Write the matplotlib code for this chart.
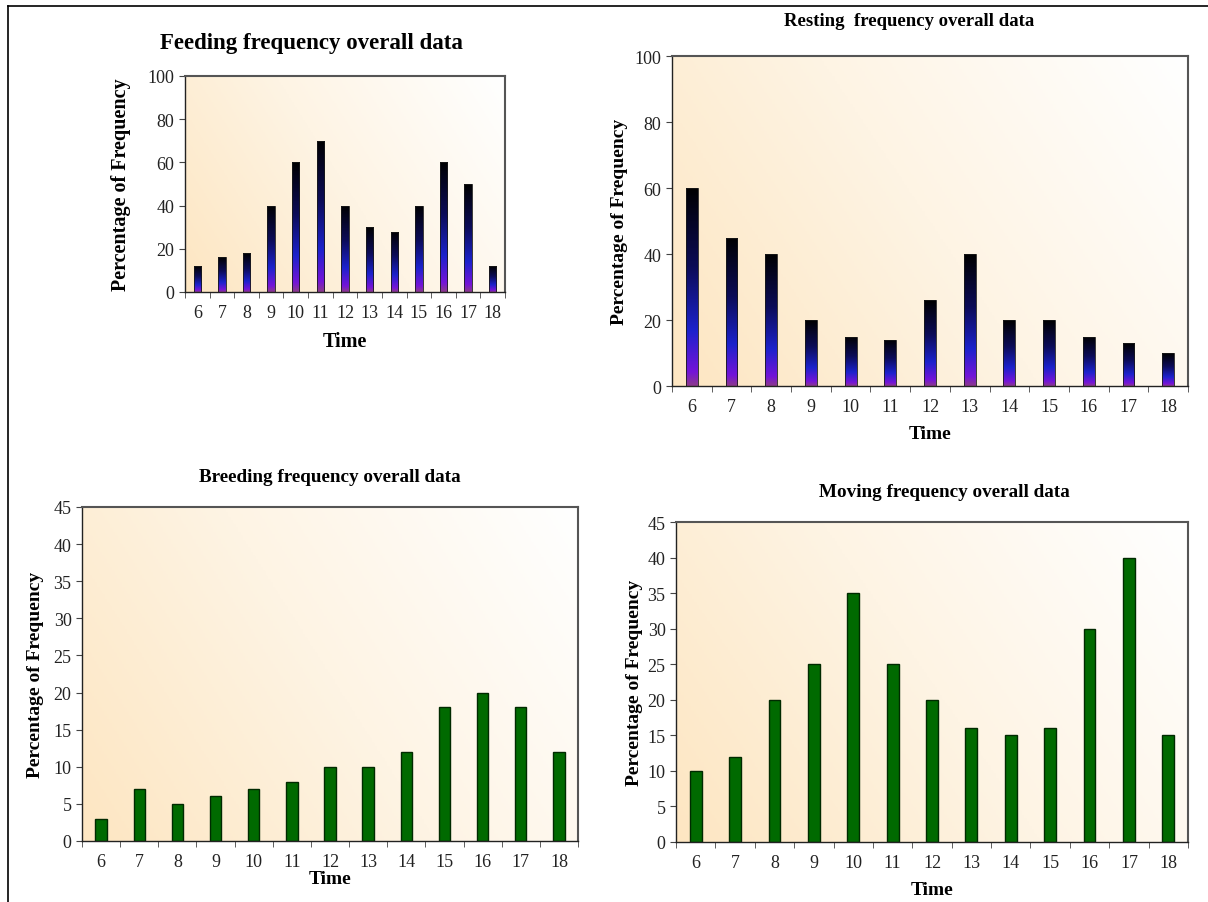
import numpy as np
import matplotlib
matplotlib.use("Agg")
import matplotlib.pyplot as plt
from matplotlib.colors import LinearSegmentedColormap
from matplotlib.lines import Line2D

plt.rcParams['font.family'] = ['Liberation Serif', 'DejaVu Serif']

hours = ['6', '7', '8', '9', '10', '11', '12', '13', '14', '15', '16', '17', '18']
feeding = [12, 16, 18, 40, 60, 70, 40, 30, 28, 40, 60, 50, 12]
resting = [60, 45, 40, 20, 15, 14, 26, 40, 20, 20, 15, 13, 10]
breeding = [3, 7, 5, 6, 7, 8, 10, 10, 12, 18, 20, 18, 12]
moving = [10, 12, 20, 25, 35, 25, 20, 16, 15, 16, 30, 40, 15]

W, H = 1208, 903
fig = plt.figure(figsize=(W / 100, H / 100), dpi=100)

bg_cmap = LinearSegmentedColormap.from_list('bg', ['#fde6c2', '#fef4e4', '#ffffff'])
bar_cmap = LinearSegmentedColormap.from_list(
    'bar', [(0.0, '#8c3a8c'), (0.07, '#7414d8'), (0.28, '#1c22cc'),
            (0.6, '#0c0c58'), (1.0, '#000000')])


def rect(l, t, r, b):
    # pixel box -> figure fraction
    return [l / W, 1 - b / H, (r - l) / W, (b - t) / H]


def panel(box, values, ymax, ystep, title, title_xy, title_size, xlabel_pad, ylabel_pad,
          label_size, green, barw):
    ax = fig.add_axes(rect(*box))
    x = np.arange(len(values))
    gx, gy = np.meshgrid(np.linspace(0, 1, 200), np.linspace(0, 1, 200))
    ax.imshow(0.7 * gx + 0.3 * gy, extent=[0, 1, 0, 1], transform=ax.transAxes,
              cmap=bg_cmap, aspect='auto', origin='lower', zorder=0)
    if green:
        ax.bar(x, values, width=barw, color='#006a00', edgecolor='#002a00',
               linewidth=1.0, zorder=2)
    else:
        bars = ax.bar(x, values, width=barw, facecolor='none', edgecolor='#1a1a1a',
                      linewidth=0.6, zorder=3)
        grad = np.linspace(0, 1, 256).reshape(-1, 1)
        for b in bars:
            x0 = b.get_x()
            im = ax.imshow(grad, extent=[x0, x0 + b.get_width(), 0, b.get_height()],
                           cmap=bar_cmap, aspect='auto', origin='lower', zorder=2)
            im.set_clip_path(b)
    ax.set_xlim(-0.5, len(values) - 0.5)
    ax.set_ylim(0, ymax)
    ax.set_yticks(np.arange(0, ymax + 1, ystep))
    ax.set_xticks(x)
    ax.set_xticklabels(hours)
    ax.set_xticks(np.arange(-0.5, len(values), 1), minor=True)
    ax.tick_params(axis='x', which='major', length=0, pad=9, labelsize=13, labelcolor='#222222')
    ax.tick_params(axis='x', which='minor', length=4, direction='out', color='#444444')
    ax.tick_params(axis='y', length=4, direction='out', labelsize=13, labelcolor='#222222',
                   color='#444444')
    for s in ['top', 'right']:
        ax.spines[s].set_color('#555555')
        ax.spines[s].set_linewidth(1.5)
    for s in ['left', 'bottom']:
        ax.spines[s].set_color('#222222')
        ax.spines[s].set_linewidth(1.0)
    ax.set_xlabel('Time', fontsize=label_size, fontweight='bold', labelpad=xlabel_pad)
    ax.set_ylabel('Percentage of Frequency', fontsize=label_size, fontweight='bold',
                  labelpad=ylabel_pad)
    fig.text(title_xy[0] / W, 1 - title_xy[1] / H, title, ha='center', va='center',
             fontsize=title_size, fontweight='bold')
    return ax


panel((185, 77, 505, 293), feeding, 100, 20, 'Feeding frequency overall data',
      (311, 44), 16.5, 7, 12, 14.5, False, 0.3)
panel((672, 57, 1188, 387), resting, 100, 20, 'Resting  frequency overall data',
      (909, 22), 13.5, 7, 5, 14, False, 0.3)
panel((82, 508, 578, 842), breeding, 45, 5, 'Breeding frequency overall data',
      (330, 478), 13.8, 0, 7, 14, True, 0.3)
panel((676, 523, 1188, 843), moving, 45, 5, 'Moving frequency overall data',
      (944, 493), 13.8, 7, 3, 14, True, 0.3)

# outer frame (left and top only)
fig.add_artist(Line2D([8 / W, 8 / W], [0, 1 - 7 / H], color='black', linewidth=1.2))
fig.add_artist(Line2D([8 / W, 1], [1 - 7 / H, 1 - 7 / H], color='black', linewidth=1.2))

fig.savefig('out.png', dpi=100, facecolor='white')
